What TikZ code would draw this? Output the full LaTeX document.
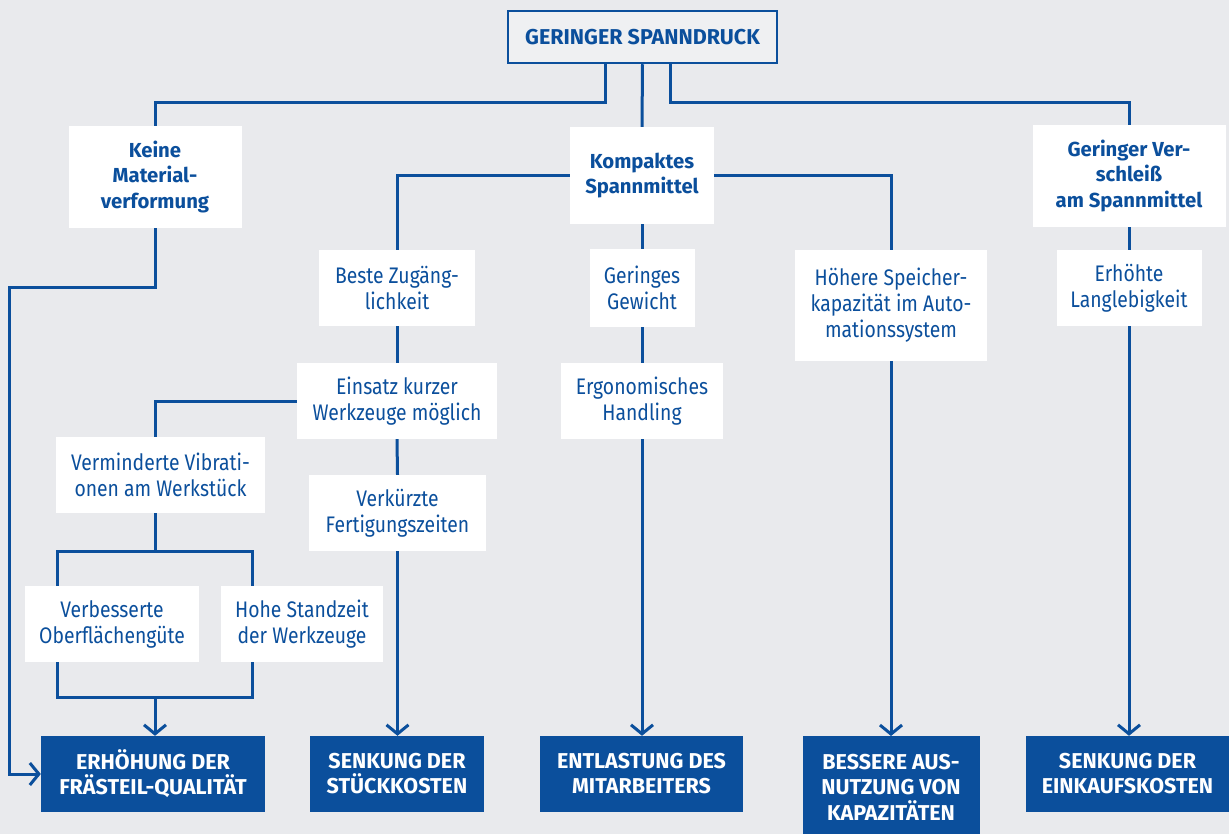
\documentclass[tikz,border=0pt]{standalone}
\usepackage{fontspec}
\setmainfont{Fira Sans}[UprightFeatures={FakeStretch=0.86}]
\usetikzlibrary{arrows.meta}
\definecolor{bl}{HTML}{0B4F9C}
\definecolor{bg}{HTML}{E9EAED}
\definecolor{topbg}{HTML}{EFF0F2}
\tikzset{
  box/.style={fill=white, text=bl, align=center, inner sep=0pt, font=\fontsize{22.5}{26}\selectfont},
  hd/.style={fill=white, text=bl, align=center, inner sep=0pt, font=\fontsize{20.3}{25.7}\selectfont\bfseries},
  res/.style={fill=bl, text=white, align=center, inner sep=0pt, font=\fontsize{21.5}{25}\selectfont\bfseries},
  ln/.style={draw=bl, line width=3pt},
  arr/.style={ln, -{Straight Barb[length=9pt,width=22pt]}},
}
\begin{document}
\begin{tikzpicture}[x=1pt,y=-1pt]
\fill[bg] (0,0) rectangle (1229,834);
\useasboundingbox (0,0) rectangle (1229,834);
% top
\node[draw=bl, line width=2.5pt, fill=topbg, text=bl, font=\fontsize{21.5}{25}\selectfont\bfseries, minimum width=269pt, minimum height=52pt, inner sep=0pt] (top) at (642.5,37) {GERINGER SPANNDRUCK};
% level 1
\node[hd, minimum width=173pt, minimum height=102pt] (keine) at (155,177) {Keine\\Material-\\verformung};
\node[hd, minimum width=144pt, minimum height=97pt] (kompakt) at (642,175.5) {Kompaktes\\Spannmittel};
\node[hd, minimum width=193pt, minimum height=102pt] (gvers) at (1129,176) {Geringer Ver-\\schleiß\\am Spannmittel};
% level 2
\node[box, minimum width=156pt, minimum height=76pt] (beste) at (397,288) {Beste Zugäng-\\lichkeit};
\node[box, minimum width=200pt, minimum height=76pt] (einsatz) at (397,401) {Einsatz kurzer\\Werkzeuge möglich};
\node[box, minimum width=177pt, minimum height=76pt] (verk) at (397.5,513) {Verkürzte\\Fertigungszeiten};
\node[box, minimum width=209pt, minimum height=76pt] (vermind) at (160.5,475) {Verminderte Vibrati-\\onen am Werkstück};
\node[box, minimum width=174pt, minimum height=76pt] (verbess) at (112,624) {Verbesserte\\Oberflächengüte};
\node[box, minimum width=162pt, minimum height=76pt] (hohe) at (302,624) {Hohe Standzeit\\der Werkzeuge};
\node[box, minimum width=105pt, minimum height=78pt] (geringes) at (642,288) {Geringes\\Gewicht};
\node[box, minimum width=162pt, minimum height=76pt] (ergo) at (642,401) {Ergonomisches\\Handling};
\node[box, minimum width=192pt, minimum height=111pt] (hoehere) at (891,305.5) {Höhere Speicher-\\kapazität im Auto-\\mationssystem};
\node[box, minimum width=145pt, minimum height=76pt] (erhoehte) at (1129,288) {Erhöhte\\Langlebigkeit};
% results
\node[res, minimum width=224pt, minimum height=76pt] (b1) at (153,774) {ERHÖHUNG DER\\FRÄSTEIL-QUALITÄT};
\node[res, minimum width=174pt, minimum height=76pt] (b2) at (397,774) {SENKUNG DER\\STÜCKKOSTEN};
\node[res, minimum width=203pt, minimum height=76pt] (b3) at (641.5,774) {ENTLASTUNG DES\\MITARBEITERS};
\node[res, minimum width=177pt, minimum height=110pt, anchor=north] (b4) at (891,736) {};
\node[res, font=\fontsize{21.5}{25.5}\selectfont\bfseries, fill=none] (b4t) at (891,787) {BESSERE AUS-\\NUTZUNG VON\\KAPAZITÄTEN};
\node[res, minimum width=203pt, minimum height=76pt] (b5) at (1127.5,774) {SENKUNG DER\\EINKAUFSKOSTEN};
% coordinates
\coordinate (lA) at (9,288);
\coordinate (vj) at (155,551);
\coordinate (vk) at (155,697);
% connectors
\draw[ln] ([xshift=-37.5pt]top.south) -- ++(0,38) -| (keine.north);
\draw[ln] (top.south) -- (kompakt.north);
\draw[ln] ([xshift=27.5pt]top.south) -- ++(0,38) -| (gvers.north);
\draw[arr] (keine.south) |- (lA) |- (b1.west);
\draw[ln] (kompakt.west) -| (beste.north);
\draw[ln] (kompakt.east) -| (hoehere.north);
\draw[ln] (kompakt.south) -- (geringes.north);
\draw[ln] (geringes.south) -- (ergo.north);
\draw[arr] (ergo.south) -- (b3.north -| ergo.south);
\draw[ln] (beste.south) -- (einsatz.north);
\draw[ln] (einsatz.south) -- (verk.north);
\draw[arr] (verk.south) -- (b2.north -| verk.south);
\draw[ln] (einsatz.west) -| ([xshift=-5.5pt]vermind.north);
\draw[ln] ([xshift=-5.5pt]vermind.south) -- (vj);
\draw[ln] (vj) -| ([xshift=-55pt]verbess.north);
\draw[ln] (vj) -| ([xshift=-50pt]hohe.north);
\draw[ln] ([xshift=-55pt]verbess.south) |- (vk);
\draw[ln] ([xshift=-50pt]hohe.south) |- (vk);
\draw[arr] (vk) -- (b1.north -| vk);
\draw[arr] (hoehere.south) -- (b4.north);
\draw[ln] (gvers.south) -- (erhoehte.north);
\draw[arr] (erhoehte.south) -- (b5.north -| erhoehte.south);
\end{tikzpicture}
\end{document}
